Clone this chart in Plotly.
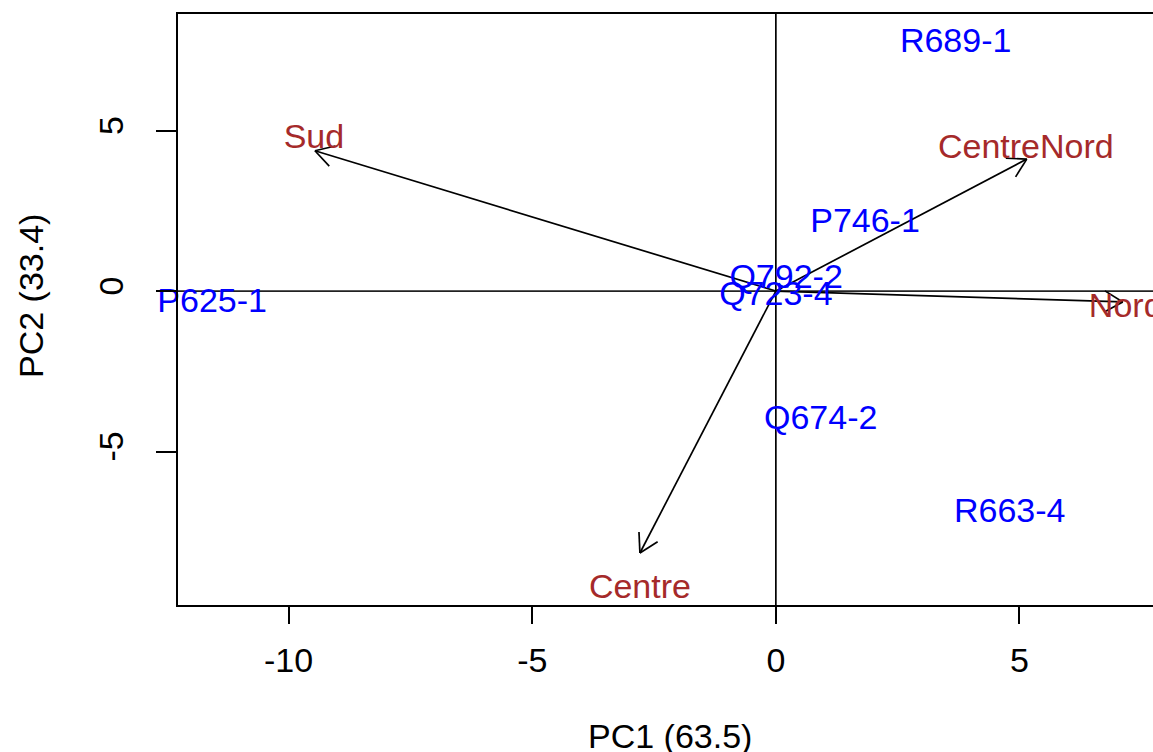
import math
import plotly.graph_objects as go

# Sample scores on the first two principal components
sample_names = ["R689-1", "P746-1", "Q792-2", "Q723-4", "P625-1", "Q674-2", "R663-4"]
sample_pc1 = [3.69, 1.83, 0.21, 0.00, -11.57, 0.92, 4.80]
sample_pc2 = [7.72, 2.11, 0.36, -0.17, -0.40, -4.03, -6.92]

# Variable loadings (arrow tips) and their label positions
var_names = ["Sud", "CentreNord", "Nord", "Centre"]
var_pc1 = [-9.46, 5.15, 7.12, -2.79]
var_pc2 = [4.37, 4.11, -0.34, -8.16]
var_label_pc1 = [-9.48, 5.13, 7.18, -2.79]
var_label_pc2 = [4.72, 4.41, -0.54, -9.30]

x_ticks = [-10, -5, 0, 5]
y_ticks = [-5, 0, 5]
x_title = "PC1 (63.5)"
y_title = "PC2 (33.4)"

W, H = 1153, 752
M = dict(l=178, r=0, t=14, b=147)
X_RANGE = [-12.27, 7.74]
Y_RANGE = [-9.78, 8.63]

FONT = "Liberation Sans, Arial, sans-serif"
FS = 34
BLUE = "#0000FF"
BROWN = "#A52A2A"

fig = go.Figure()

# pixel scale, used to give arrowheads a fixed on-screen size
sx = (W - M["l"] - M["r"]) / (X_RANGE[1] - X_RANGE[0])
sy = (H - M["t"] - M["b"]) / (Y_RANGE[1] - Y_RANGE[0])
head_len = 21.0
head_ang = math.radians(30)

for vx, vy in zip(var_pc1, var_pc2):
    # shaft from the origin
    fig.add_trace(go.Scatter(x=[0, vx], y=[0, vy], mode="lines",
                             line=dict(color="black", width=1.7),
                             hoverinfo="skip", showlegend=False))
    px, py = vx * sx, vy * sy
    n = math.hypot(px, py)
    ux, uy = px / n, py / n
    hx, hy = [], []
    for s in (1, -1):
        c, si = math.cos(s * head_ang), math.sin(s * head_ang)
        rx = ux * c - uy * si
        ry = ux * si + uy * c
        hx += [vx - head_len * rx / sx, vx, None]
        hy += [vy - head_len * ry / sy, vy, None]
    fig.add_trace(go.Scatter(x=hx, y=hy, mode="lines",
                             line=dict(color="black", width=1.7),
                             hoverinfo="skip", showlegend=False))

fig.add_trace(go.Scatter(x=sample_pc1, y=sample_pc2, text=sample_names,
                         mode="text", textposition="middle center",
                         textfont=dict(family=FONT, size=FS, color=BLUE),
                         cliponaxis=False, hoverinfo="skip", showlegend=False))

fig.add_trace(go.Scatter(x=var_label_pc1, y=var_label_pc2, text=var_names,
                         mode="text", textposition="middle center",
                         textfont=dict(family=FONT, size=FS, color=BROWN),
                         cliponaxis=False, hoverinfo="skip", showlegend=False))

# reference lines through the origin
fig.add_shape(type="line", xref="x", yref="paper", x0=0, x1=0, y0=0, y1=1,
              line=dict(color="black", width=1.7), layer="below")
fig.add_shape(type="line", xref="paper", yref="y", x0=0, x1=1, y0=0, y1=0,
              line=dict(color="#222222", width=1.8), layer="below")

fig.add_annotation(text=x_title, xref="paper", yref="paper",
                   x=(670 - M["l"]) / (W - M["l"] - M["r"]),
                   y=(605 - 736) / (H - M["t"] - M["b"]),
                   xanchor="center", yanchor="middle", showarrow=False,
                   font=dict(family=FONT, size=FS, color="black"))
fig.add_annotation(text=y_title, xref="paper", yref="paper",
                   x=(31 - M["l"]) / (W - M["l"] - M["r"]),
                   y=(605 - 296) / (H - M["t"] - M["b"]),
                   xanchor="center", yanchor="middle", textangle=-90,
                   showarrow=False,
                   font=dict(family=FONT, size=FS, color="black"))

fig.update_layout(
    width=W, height=H, margin=M,
    paper_bgcolor="white", plot_bgcolor="white",
    showlegend=False,
    xaxis=dict(range=X_RANGE, tickvals=x_ticks, ticktext=[str(v) for v in x_ticks],
               showgrid=False, zeroline=False,
               showline=True, mirror=True, linecolor="black", linewidth=1.9,
               ticks="outside", ticklen=17, tickwidth=1.7, tickcolor="black",
               tickfont=dict(family=FONT, size=FS, color="black"),
               ticklabelstandoff=7),
    yaxis=dict(range=Y_RANGE, tickvals=y_ticks, ticktext=[str(v) for v in y_ticks],
               showgrid=False, zeroline=False,
               showline=True, mirror=False, linecolor="black", linewidth=1.9,
               ticks="outside", ticklen=20, tickwidth=1.7, tickcolor="black",
               tickangle=-90,
               tickfont=dict(family=FONT, size=FS, color="black"),
               ticklabelstandoff=19),
)

fig.write_html("out.html")
